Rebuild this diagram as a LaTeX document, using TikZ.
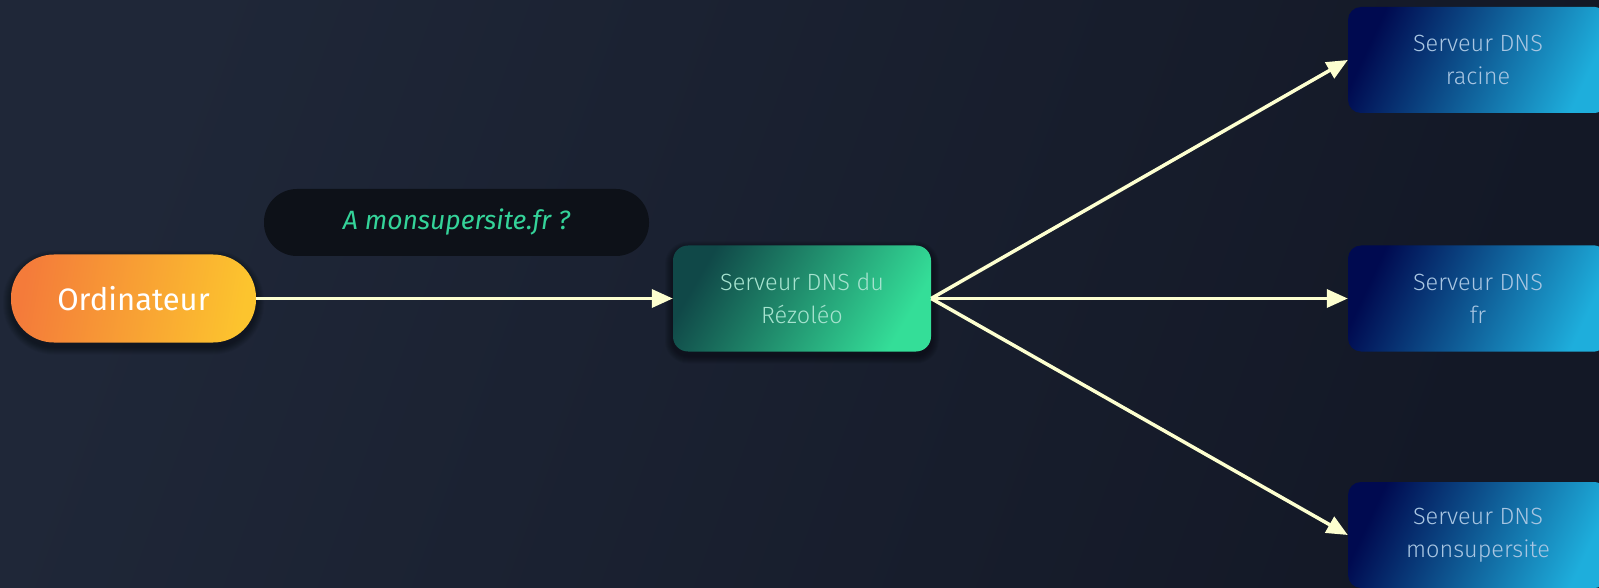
\documentclass[tikz,border=0pt]{standalone}
\usepackage{fontspec}
\setmainfont{Fira Sans}
\newfontfamily\lightfont{Fira Sans Light}
\usetikzlibrary{arrows.meta}
\definecolor{bgA}{HTML}{1F2738}
\definecolor{bgB}{HTML}{131826}
\definecolor{arrowc}{HTML}{FDFFD0}
\definecolor{orA}{HTML}{F47B3A}
\definecolor{orB}{HTML}{FCC42E}
\definecolor{grA}{HTML}{104848}
\definecolor{grB}{HTML}{34DE98}
\definecolor{blA}{HTML}{000A50}
\definecolor{blB}{HTML}{1EAEDC}
\definecolor{pillc}{HTML}{0D1118}
\definecolor{qtext}{HTML}{34D399}
\definecolor{btext}{HTML}{A9C6E2}
\definecolor{gtext}{HTML}{A6E3CF}
\tikzset{
  conn/.style={draw=arrowc, line width=3.5pt, -{Triangle[length=21pt,width=18pt]}},
  dnsbox/.style={rounded corners=13pt, minimum width=260pt, minimum height=106pt,
     left color=blA, right color=blB, shading angle=65, draw=none,
     align=center, text=btext, font=\lightfont\fontsize{23.5}{33}\selectfont},
  resbox/.style={rounded corners=15pt, minimum width=258pt, minimum height=106pt,
     left color=grA, right color=grB, shading angle=60, draw=none,
     align=center, text=gtext, font=\lightfont\fontsize{23.5}{33}\selectfont},
  pcbox/.style={rounded corners=43pt, minimum width=245pt, minimum height=88pt,
     left color=orA, right color=orB, shading angle=80, draw=none,
     text=white, font=\fontsize{31}{34}\selectfont},
  qpill/.style={rounded corners=33pt, minimum width=385pt, minimum height=67pt,
     fill=pillc, draw=none, text=qtext, font=\itshape\fontsize{26.5}{30}\selectfont},
  softshadow/.style={fill=black, opacity=0.05},
}
\begin{document}
\begin{tikzpicture}[x=1pt,y=-1pt]
\useasboundingbox (0,0) rectangle (1599,588);
\shade[left color=bgA, right color=bgB, shading angle=70] (0,0) rectangle (1599,588);
% soft shadows
\foreach \i in {1,...,8}{
  \fill[softshadow, rounded corners={43pt+\i pt}] (11-\i,258.5-\i) rectangle (256+\i,346.5+\i);
  \fill[softshadow, rounded corners={15pt+\i pt}] (673-\i,249.5-\i) rectangle (931+\i,355.5+\i);
}
\node[pcbox] (pc) at (133.5,298.5) {Ordinateur};
\node[qpill] (q) at (456.5,222.5) {A monsupersite.fr ?};
\node[resbox] (res) at (802,298.5) {Serveur DNS du\\Rézoléo};
\node[dnsbox] (root) at (1478,60) {Serveur DNS\\racine};
\node[dnsbox] (fr) at (1478,298.5) {Serveur DNS\\fr};
\node[dnsbox] (site) at (1478,535) {Serveur DNS\\monsupersite};
\draw[conn] (pc.east) -- (res.west);
\draw[conn] (res.east) -- (root.west);
\draw[conn] (res.east) -- (fr.west);
\draw[conn] (res.east) -- (site.west);
\end{tikzpicture}
\end{document}
